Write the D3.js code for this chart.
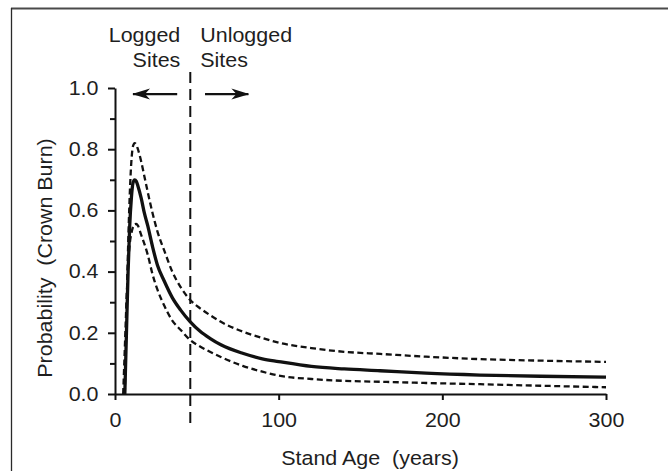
<!DOCTYPE html>
<html>
<head>
<meta charset="utf-8">
<script src="https://cdn.jsdelivr.net/npm/d3@7"></script>
<style>
  html, body { margin: 0; padding: 0; background: #fff; }
  svg { display: block; }
  text { font-family: "Liberation Sans", Arial, sans-serif; fill: #1e1e1e; white-space: pre; }
</style>
</head>
<body>
<svg id="chart" width="668" height="471"></svg>
<script>
// ── Data ───────────────────────────────────────────────────
const ages = [5, 6, 7, 8, 9, 10, 11, 12, 13, 14, 16, 18, 20, 23, 26, 30, 35, 40, 46,
  52, 58, 65, 78, 90, 100, 120, 140, 162, 190, 223, 260, 300];
const meanProb = [null, 0, 0.2, 0.4, 0.55, 0.64, 0.69, 0.70, 0.695, 0.68, 0.64, 0.59, 0.55, 0.48,
  0.42, 0.37, 0.315, 0.275, 0.236, 0.205, 0.182, 0.16, 0.133, 0.115, 0.106, 0.09, 0.082,
  0.076, 0.068, 0.062, 0.058, 0.055];
const upperProb = [null, 0, 0.25, 0.48, 0.65, 0.76, 0.81, 0.82, 0.815, 0.80, 0.76, 0.71, 0.66, 0.59,
  0.53, 0.47, 0.40, 0.35, 0.307, 0.28, 0.258, 0.235, 0.204, 0.183, 0.168, 0.150, 0.138,
  0.131, 0.122, 0.114, 0.109, 0.105];
const lowerProb = [0, 0.15, 0.3, 0.42, 0.49, 0.525, 0.545, 0.555, 0.556, 0.55, 0.52, 0.49, 0.455, 0.39,
  0.34, 0.29, 0.24, 0.21, 0.176, 0.155, 0.138, 0.12, 0.092, 0.073, 0.060, 0.049, 0.043,
  0.040, 0.036, 0.032, 0.027, 0.022];

const xTicks = [0, 100, 200, 300];
const yTicks = [0, 0.2, 0.4, 0.6, 0.8, 1.0];
const yMinorTicks = [0.1, 0.3, 0.5, 0.7, 0.9];
const boundaryAge = 46;

// ── Layout ─────────────────────────────────────────────────
const svg = d3.select('#chart');
const FS = 19.5;        // font size
const SX = 1.1;         // horizontal text stretch, the figure's type is wide
const ink = '#111';

const x = d3.scaleLinear().domain([0, 300]).range([115, 606]);
const y = d3.scaleLinear().domain([0, 1]).range([394, 88]);

// outer frame (only top and left edges are visible)
svg.append('line').attr('x1', 11).attr('x2', 668).attr('y1', 8.5).attr('y2', 8.5)
  .attr('stroke', '#4a4a4a').attr('stroke-width', 2);
svg.append('line').attr('x1', 11.5).attr('x2', 11.5).attr('y1', 8).attr('y2', 471)
  .attr('stroke', '#2a2a2a').attr('stroke-width', 1.3);

function label(px, py, str, anchor, rot) {
  return svg.append('text')
    .attr('transform', `translate(${px},${py})` + (rot ? ` rotate(${rot})` : '') + ` scale(${SX},1)`)
    .attr('text-anchor', anchor)
    .attr('font-size', FS)
    .text(str);
}

// ── Axes ───────────────────────────────────────────────────
const yAxis = svg.append('g')
  .attr('transform', `translate(${x(0)},0)`)
  .call(d3.axisLeft(y).tickValues(yTicks).tickFormat(d3.format('.1f'))
    .tickSize(7).tickSizeOuter(0).tickPadding(8));
svg.append('g')
  .attr('transform', `translate(${x(0)},0)`)
  .call(d3.axisLeft(y).tickValues(yMinorTicks).tickFormat('').tickSize(5).tickSizeOuter(0))
  .call(g => g.select('.domain').remove());

const xAxis = svg.append('g')
  .attr('transform', `translate(0,${y(0)})`)
  .call(d3.axisBottom(x).tickValues(xTicks).tickSize(6).tickSizeOuter(0).tickPadding(13));

svg.selectAll('.tick line, .domain').attr('stroke', ink).attr('stroke-width', 2);
[yAxis, xAxis].forEach(a => a.selectAll('text')
  .attr('font-size', FS).attr('font-family', '"Liberation Sans", Arial, sans-serif')
  .attr('fill', '#1e1e1e')
  .attr('transform', `scale(${SX},1)`));

label(370, 465, 'Stand Age  (years)', 'middle');
label(51.5, 258, 'Probability  (Crown Burn)', 'middle', -90);

// ── Logged / unlogged boundary ─────────────────────────────
svg.append('line')
  .attr('x1', x(boundaryAge)).attr('x2', x(boundaryAge))
  .attr('y1', 72).attr('y2', 427)
  .attr('stroke', ink).attr('stroke-width', 2)
  .attr('stroke-dasharray', '11,6');

label(x(boundaryAge) - 10, 42, 'Logged', 'end');
label(x(boundaryAge) - 10, 67, 'Sites', 'end');
label(x(boundaryAge) + 10, 42, 'Unlogged', 'start');
label(x(boundaryAge) + 10, 67, 'Sites', 'start');

// arrows
svg.append('defs').append('marker')
  .attr('id', 'head')
  .attr('viewBox', '0 0 18 12')
  .attr('refX', 17).attr('refY', 6)
  .attr('markerWidth', 18).attr('markerHeight', 12)
  .attr('markerUnits', 'userSpaceOnUse')
  .attr('orient', 'auto')
  .append('path')
  .attr('d', 'M0,0.5 L18,6 L0,11.5 L5,6 Z')
  .attr('fill', ink);

const arrowY = y(0.98);
svg.append('line')
  .attr('x1', x(boundaryAge - 8)).attr('x2', x(boundaryAge - 35))
  .attr('y1', arrowY).attr('y2', arrowY)
  .attr('stroke', ink).attr('stroke-width', 2.4)
  .attr('marker-end', 'url(#head)');
svg.append('line')
  .attr('x1', x(boundaryAge + 9)).attr('x2', x(boundaryAge + 35.5))
  .attr('y1', arrowY).attr('y2', arrowY)
  .attr('stroke', ink).attr('stroke-width', 2.4)
  .attr('marker-end', 'url(#head)');

// ── Curves ─────────────────────────────────────────────────
function series(vals) {
  return ages.map((a, i) => ({ age: a, p: vals[i] })).filter(d => d.p !== null);
}
const line = d3.line()
  .x(d => x(d.age))
  .y(d => y(d.p))
  .curve(d3.curveMonotoneX);

[
  { vals: upperProb, width: 2.3, dash: '6,3.5' },
  { vals: lowerProb, width: 2.3, dash: '6,3.5' },
  { vals: meanProb, width: 3.3, dash: null }
].forEach(s => {
  svg.append('path')
    .datum(series(s.vals))
    .attr('d', line)
    .attr('fill', 'none')
    .attr('stroke', ink)
    .attr('stroke-width', s.width)
    .attr('stroke-dasharray', s.dash);
});
</script>
</body>
</html>
